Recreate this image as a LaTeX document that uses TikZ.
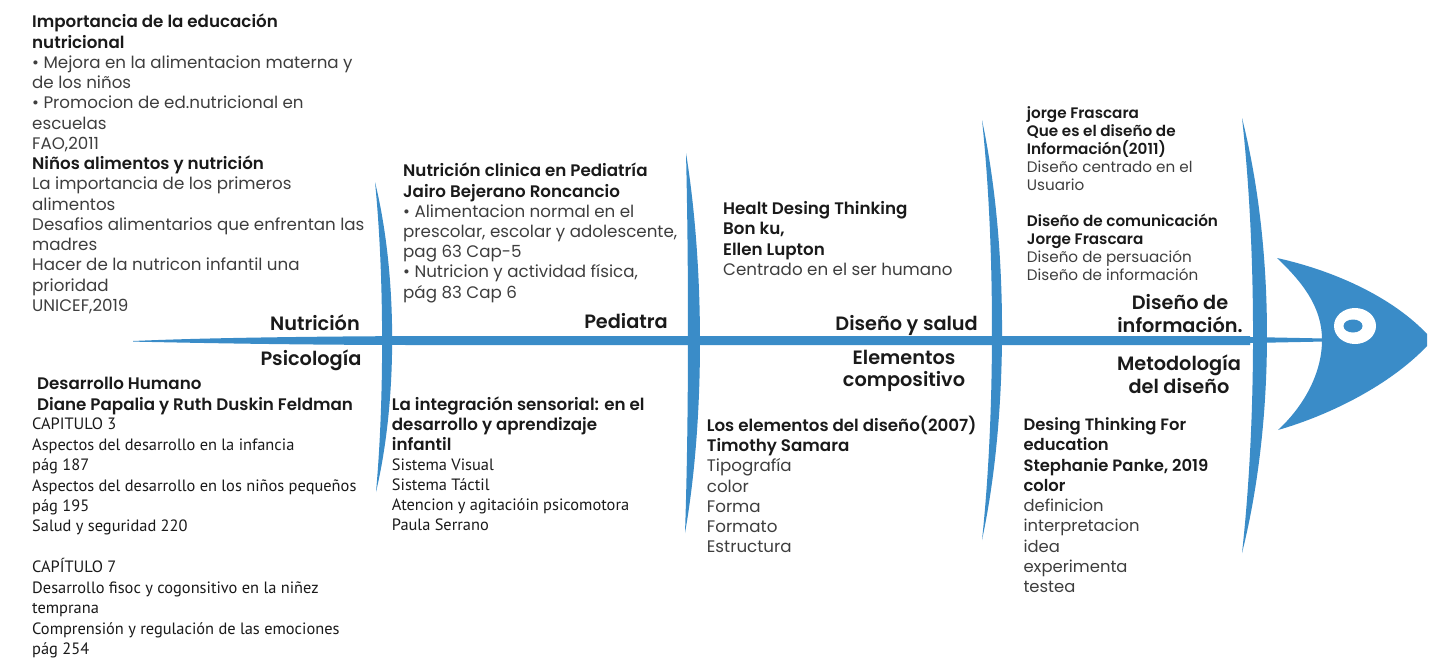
\documentclass[tikz,border=0pt]{standalone}
\usepackage{fontspec}
\setmainfont{Poppins}[BoldFont={Poppins SemiBold}]
\newfontfamily\myr{PT Sans}
\definecolor{fblue}{HTML}{3A8CC8}
\definecolor{ink}{HTML}{1A1A1A}
\definecolor{gry}{HTML}{3E3E3E}
\newcommand{\Hd}[1]{{\bfseries\color{ink}#1}}
\newcommand{\Rg}[1]{{\color{gry}#1}}
\newcommand{\My}[1]{{\myr\color{ink}#1}}
\begin{document}
\begin{tikzpicture}[x=1pt,y=-1pt,
  blk/.style={anchor=north west,inner sep=0pt,align=left},
  body/.style={font=\fontsize{16.7}{#1}\selectfont},
  lbl/.style={inner sep=0pt,font=\fontsize{19.3}{21.7}\selectfont\bfseries,text=ink},
  bone/.style={fill=fblue,draw=none}]
\useasboundingbox (0,0) rectangle (1442,657);
\fill[white] (0,0) rectangle (1442,657);

% spine
\fill[fblue] (133,341) .. controls (200,338) and (300,336.5) .. (420,336) -- (1250,336) -- (1250,345) -- (420,345) .. controls (300,345) and (200,343) .. (133,341.6) -- cycle;
\fill[fblue] (1250,337) -- (1325,338.5) -- (1325,341.5) -- (1250,343) -- cycle;

% bones
\path[bone] (375,182) .. controls (397.7,275) and (397.7,400) .. (376,492) .. controls (384.3,400) and (384.3,275) .. (375,182) -- cycle;
\path[bone] (686,153) .. controls (704.8,270) and (704.8,420) .. (685,533) .. controls (688.8,420) and (688.8,270) .. (686,153) -- cycle;
\path[bone] (982,120) .. controls (1008.7,245) and (1008.7,415) .. (982,540) .. controls (995.3,415) and (995.3,245) .. (982,120) -- cycle;
\path[bone] (1242,118) .. controls (1275.3,250) and (1275.3,420) .. (1242,553) .. controls (1256.7,420) and (1256.7,250) .. (1242,118) -- cycle;

% head
\fill[fblue] (1277,258) .. controls (1340,272) and (1395,300) .. (1427,334) -- (1427,346) .. controls (1390,385) and (1330,415) .. (1278,430) .. controls (1305,405) and (1322,372) .. (1322,340) .. controls (1322,305) and (1300,280) .. (1277,258) -- cycle;
\fill[white] (1355,326) ellipse [x radius=21, y radius=18];
\fill[fblue] (1353,326) ellipse [x radius=9.5, y radius=6.5];

% labels
\node[lbl,anchor=base east] (lnut) at (360,330) {Nutrición};
\node[lbl,anchor=base east] (lpsi) at (361.7,365.5) {Psicología};
\node[lbl,anchor=base east] (lped) at (668,328.5) {Pediatra};
\node[lbl,anchor=base east] (lsal) at (978,330) {Diseño y salud};
\node[lbl,anchor=north,align=center] (lele) at (904,349) {\strut Elementos\\compositivo};
\node[lbl,anchor=north,align=center] (linf) at (1180,294.2) {\strut Diseño de\\información.};
\node[lbl,anchor=north,align=center,font=\fontsize{19.3}{22.8}\selectfont\bfseries] (lmet) at (1179,354.5) {\strut Metodología\\del diseño};

% blocks
\node[blk,body=20.25] (b1) at (32,13.6) {%
\Hd{\strut Importancia de la educación}\\
\Hd{nutricional}\\
\Rg{• Mejora en la alimentacion materna y}\\
\Rg{de los niños}\\
\Rg{• Promocion de ed.nutricional en}\\
\Rg{escuelas}\\
\Rg{FAO,2011}\\
\Hd{Niños alimentos y nutrición}\\
\Rg{La importancia de los primeros}\\
\Rg{alimentos}\\
\Rg{Desafios alimentarios que enfrentan las}\\
\Rg{madres}\\
\Rg{Hacer de la nutricon infantil una}\\
\Rg{prioridad}\\
\Rg{UNICEF,2019}};

\node[blk,body=21.2] (b2a) at (37,374.1) {%
\Hd{\strut Desarrollo Humano}\\
\Hd{Diane Papalia y Ruth Duskin Feldman}};

\node[blk,font=\myr\fontsize{16.4}{20.45}\selectfont,text=ink] (b2b) at (32,415.2) {%
\strut CAPITULO 3\\
Aspectos del desarrollo en la infancia\\
pág 187\\
Aspectos del desarrollo en los niños pequeños\\
pág 195\\
Salud y seguridad 220\\[20.45pt]
CAPÍTULO 7\\
Desarrollo fisoc y cogonsitivo en la niñez\\
temprana\\
Comprensión y regulación de las emociones\\
pág 254};

\node[blk,body=20.2] (b3) at (403,162.6) {%
\Hd{\strut Nutrición clinica en Pediatría}\\
\Hd{Jairo Bejerano Roncancio}\\
\Rg{• Alimentacion normal en el}\\
\Rg{prescolar, escolar y adolescente,}\\
\Rg{pag 63 Cap-5}\\
\Rg{• Nutricion y actividad física,}\\
\Rg{pág 83 Cap 6}};

\node[blk,body=20.1] (b4) at (391.7,396) {%
\Hd{\strut La integración sensorial: en el}\\
\Hd{desarrollo y aprendizaje}\\
\Hd{infantil}\\
\My{\fontsize{16.4}{20.1}\selectfont Sistema Visual}\\
\My{\fontsize{16.4}{20.1}\selectfont Sistema Táctil}\\
\My{\fontsize{16.4}{20.1}\selectfont Atencion y agitacióin psicomotora}\\
\My{\fontsize{16.4}{20.1}\selectfont Paula Serrano}};

\node[blk,body=20.5] (b5) at (723,199.6) {%
\Hd{\strut Healt Desing Thinking}\\
\Hd{Bon ku,}\\
\Hd{Ellen Lupton}\\
\Rg{Centrado en el ser humano}};

\node[blk,body=20.2] (b6) at (706.7,415.9) {%
\Hd{\strut Los elementos del diseño(2007)}\\
\Hd{Timothy Samara}\\
\Rg{Tipografía}\\
\Rg{color}\\
\Rg{Forma}\\
\Rg{Formato}\\
\Rg{Estructura}};

\node[blk,font=\fontsize{15.2}{18.1}\selectfont] (b7a) at (1026.7,105.7) {%
\Hd{\strut jorge Frascara}\\
\Hd{Que es el diseño de}\\
\Hd{Información(2011)}\\
\Rg{Diseño centrado en el}\\
\Rg{Usuario}};

\node[blk,font=\fontsize{15.2}{18}\selectfont] (b7b) at (1026.7,213.5) {%
\Hd{\strut Diseño de comunicación}\\
\Hd{Jorge Frascara}\\
\Rg{Diseño de persuación}\\
\Rg{Diseño de información}};

\node[blk,font=\fontsize{16.4}{20.3}\selectfont] (b8) at (1023.3,416) {%
\Hd{\strut Desing Thinking For}\\
\Hd{education}\\
\Hd{Stephanie Panke, 2019}\\
\Hd{color}\\
\Rg{definicion}\\
\Rg{interpretacion}\\
\Rg{idea}\\
\Rg{experimenta}\\
\Rg{testea}};
\end{tikzpicture}
\end{document}
